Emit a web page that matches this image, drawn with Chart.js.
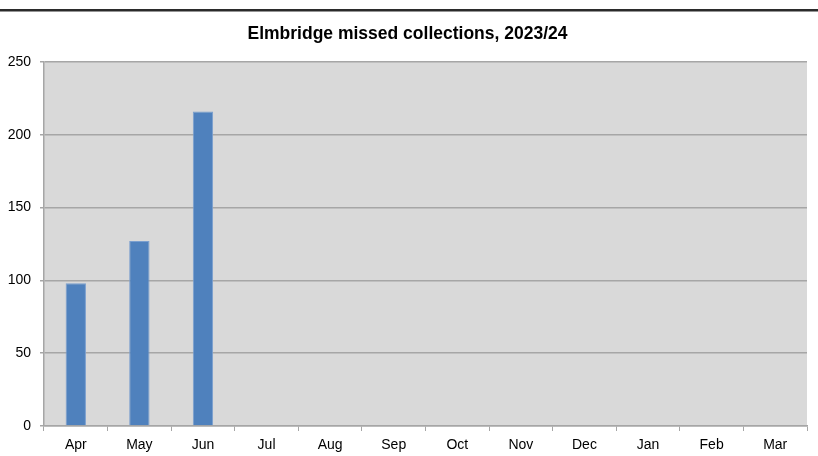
<!DOCTYPE html>
<html lang="en">
<head>
  <meta charset="UTF-8">
  <title>Elmbridge missed collections</title>
  <style>
    body {
      margin: 0;
      background: #ffffff;
    }
    #chartContainer {
      width: 818px;
      height: 456px;
    }
  </style>
</head>
<body>
  <div id="chartContainer">
    <canvas id="missedChart" width="818" height="456"></canvas>
  </div>

  <script src="https://cdn.jsdelivr.net/npm/chart.js"></script>
  <script>
    const months = ['Apr', 'May', 'Jun', 'Jul', 'Aug', 'Sep', 'Oct', 'Nov', 'Dec', 'Jan', 'Feb', 'Mar'];
    const missed = [98, 127, 216, null, null, null, null, null, null, null, null, null];
    const yTicks = [0, 50, 100, 150, 200, 250];

    // grey plot background plus the dark rule along the top of the page
    const backdrop = {
      id: 'backdrop',
      beforeDraw(chart) {
        const ctx = chart.ctx;
        const a = chart.chartArea;
        ctx.save();
        ctx.fillStyle = '#ffffff';
        ctx.fillRect(0, 0, chart.width, chart.height);
        ctx.fillStyle = '#2b2b2b';
        ctx.fillRect(0, 9, chart.width, 2.5);
        ctx.fillStyle = '#d9d9d9';
        ctx.fillRect(a.left, a.top, a.right - a.left, a.bottom - a.top);
        ctx.restore();
      }
    };

    const ctx = document.getElementById('missedChart').getContext('2d');
    new Chart(ctx, {
      type: 'bar',
      data: {
        labels: months,
        datasets: [{
          data: missed,
          backgroundColor: '#4f81bd',
          borderColor: '#7a9fcf',
          borderWidth: 1,
          barPercentage: 0.32,
          categoryPercentage: 1
        }]
      },
      options: {
        responsive: false,
        animation: false,
        devicePixelRatio: 1,
        layout: {
          padding: { left: 8, right: 11, top: 0, bottom: 0 }
        },
        plugins: {
          legend: { display: false },
          tooltip: { enabled: false },
          title: {
            display: true,
            text: 'Elmbridge missed collections, 2023/24',
            color: '#000000',
            font: { family: 'Liberation Sans, Arial, sans-serif', size: 17.5, weight: 'bold' },
            padding: { top: 24, bottom: 17 }
          }
        },
        scales: {
          x: {
            grid: {
              offset: true,
              drawOnChartArea: false,
              drawTicks: true,
              tickLength: 5,
              color: '#a6a6a6'
            },
            border: { color: '#a6a6a6', width: 1.5 },
            ticks: {
              color: '#000000',
              padding: 6,
              maxRotation: 0,
              autoSkip: false,
              font: { family: 'Liberation Sans, Arial, sans-serif', size: 14 }
            },
            afterFit(scale) { scale.height = 30; }
          },
          y: {
            min: 0,
            max: 250,
            afterBuildTicks(scale) { scale.ticks = yTicks.map(v => ({ value: v })); },
            grid: {
              color: '#a6a6a6',
              lineWidth: 1.5,
              tickLength: 4
            },
            border: { color: '#a6a6a6', width: 1.5 },
            ticks: {
              color: '#000000',
              padding: 9,
              font: { family: 'Liberation Sans, Arial, sans-serif', size: 14 }
            },
            afterFit(scale) { scale.width = 36; }
          }
        }
      },
      plugins: [backdrop]
    });
  </script>
</body>
</html>
